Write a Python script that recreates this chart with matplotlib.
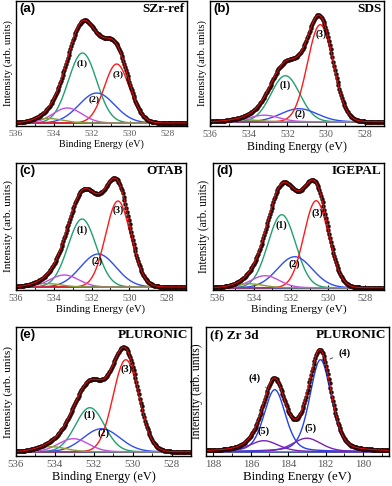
import numpy as np
import matplotlib
matplotlib.use('Agg')
import matplotlib.pyplot as plt
from matplotlib.ticker import MultipleLocator

plt.rcParams['font.family'] = ['Liberation Serif', 'DejaVu Serif']

# panel names
panel_tags = ['(a)', '(b)', '(c)', '(d)', '(e)', '(f) Zr 3d']
sample_names = ['SZr-ref', 'SDS', 'OTAB', 'IGEPAL', 'PLURONIC', 'PLURONIC']

# O 1s components per sample: centre (eV), height (arb.), FWHM (eV)
# order: (1) green, (2) blue, (3) red, extra magenta, extra olive
o1s_centres = {
    'SZr-ref':  [532.5, 531.75, 530.7, 533.3, 534.3],
    'SDS':      [532.1, 531.4, 530.3, 533.2, 534.3],
    'OTAB':     [532.5, 531.65, 530.6, 533.45, 534.4],
    'IGEPAL':   [532.5, 531.8, 530.65, 533.4, 534.3],
    'PLURONIC': [532.2, 531.6, 530.35, 533.05, 534.2],
}
o1s_heights = {
    'SZr-ref':  [70, 30, 59, 15, 4.5],
    'SDS':      [46, 13, 97, 6.5, 2],
    'OTAB':     [68, 33, 86, 12, 3.5],
    'IGEPAL':   [73, 31, 87, 12, 4],
    'PLURONIC': [44, 23, 92, 13, 5],
}
o1s_fwhm = [1.75, 2.2, 1.55, 1.8, 1.8]

# label positions for (1), (2), (3): energy, height
o1s_label_x = {
    'SZr-ref':  [532.5, 531.9, 530.65],
    'SDS':      [532.1, 531.35, 530.25],
    'OTAB':     [532.5, 531.7, 530.6],
    'IGEPAL':   [532.5, 531.8, 530.6],
    'PLURONIC': [532.2, 531.5, 530.3],
}
o1s_label_y = {
    'SZr-ref':  [60, 24, 49],
    'SDS':      [37, 8, 88],
    'OTAB':     [57, 26, 77],
    'IGEPAL':   [63, 24, 75],
    'PLURONIC': [37, 19, 83],
}

# Zr 3d (PLURONIC): 3d3/2, 3d5/2 (4) and 3d3/2, 3d5/2 (5)
zr_centres = [184.72, 182.27, 185.3, 183.0]
zr_heights = [62, 92, 11, 13.5]
zr_fwhm = [1.35, 1.35, 1.8, 1.8]

o1s_colors = ['#21a06e', '#2e4ef0', '#ff1a1a', '#c34fe0', '#8c9a38']
zr_colors = ['#2340f0', '#2340f0', '#7a22b8', '#7a22b8']

W, H = 392, 486
# axes boxes in pixels: left, right, top, bottom ; y limits
boxes = [(16, 187, 1, 126), (210, 384, 1, 126),
         (16, 186, 163, 290), (213, 384, 163, 290),
         (16, 191, 327, 456), (206, 389, 327, 456)]
ylims = [(-3, 122), (-4.3, 120.7), (-3, 124), (-2.3, 124.7), (-4.3, 124.7), (-4.3, 124.7)]
# the six panels were pasted at slightly different scales
xlab_size = [7.2, 8.6, 7.6, 8.2, 8.8, 9.3]
ylab_size = [7.6, 7.6, 8.1, 8.3, 8.1, 8.5]
tick_size = [6.8, 7.2, 7.0, 7.4, 7.8, 7.8]
lab_size = [6.8, 7.0, 7.0, 7.2, 7.4, 7.4]


def peak(x, c, h, fw, eta=0.0):
    s = fw / 2.3548
    g = np.exp(-(x - c) ** 2 / (2 * s * s))
    l = 1.0 / (1.0 + ((x - c) / (fw / 2)) ** 2)
    return h * ((1 - eta) * g + eta * l)


fig = plt.figure(figsize=(W / 100, H / 100), dpi=100)

for i in range(6):
    l, r, t, b = boxes[i]
    ax = fig.add_axes([l / W, 1 - b / H, (r - l) / W, (b - t) / H])
    name = sample_names[i]
    if i < 5:
        x = np.linspace(536.2, 527, 400)
        xd = np.arange(536.2, 527, -0.045)
        comps = [peak(x, c, h, f) for c, h, f in
                 zip(o1s_centres[name], o1s_heights[name], o1s_fwhm)]
        dots = sum(peak(xd, c, h, f) for c, h, f in
                   zip(o1s_centres[name], o1s_heights[name], o1s_fwhm))
        cols = o1s_colors
        ax.set_xlim(536 if i != 3 else 536.2, 527)
    else:
        x = np.linspace(188.4, 178.6, 400)
        xd = np.arange(188.4, 178.6, -0.045)
        comps = [peak(x, c, h, f, 0.3) for c, h, f in zip(zr_centres, zr_heights, zr_fwhm)]
        dots = sum(peak(xd, c, h, f, 0.3) for c, h, f in zip(zr_centres, zr_heights, zr_fwhm))
        cols = zr_colors
        ax.set_xlim(188.4, 178.6)

    ax.plot(x, np.zeros_like(x), color='#1a2a8a', lw=1.1)
    if i == 5:
        ax.plot(x, np.zeros_like(x) + 0.8, color='#6a9a6a', lw=0.8)
    for yc, col in zip(comps, cols):
        ax.plot(x, yc, color=col, lw=1.0)
    ax.plot(xd, dots, 'o', ms=3.2, color='#2a0606', mew=0)
    ax.plot(x, sum(comps), color='#e01010', lw=0.7)

    fs = lab_size[i]
    if i < 5:
        for k, lab in enumerate(['(1)', '(2)', '(3)']):
            ax.text(o1s_label_x[name][k], o1s_label_y[name][k], lab,
                    fontsize=fs, fontweight='bold', ha='center', va='center')
    else:
        ax.annotate('(4)', xy=(185.1, 62.5), xytext=(185.8, 74),
                    fontsize=fs, fontweight='bold', ha='center', va='center',
                    arrowprops=dict(arrowstyle='-', color='#333333', lw=0.6))
        ax.annotate('(4)', xy=(181.9, 91.5), xytext=(181.0, 99),
                    fontsize=fs, fontweight='bold', ha='center', va='center',
                    arrowprops=dict(arrowstyle='-', color='#333333', lw=0.6))
        ax.text(185.3, 20.5, '(5)', fontsize=fs, fontweight='bold', ha='center', va='center')
        ax.text(182.8, 24, '(5)', fontsize=fs, fontweight='bold', ha='center', va='center')

    ax.set_ylim(*ylims[i])
    ax.set_yticks([])
    ax.xaxis.set_major_locator(MultipleLocator(2))
    ax.xaxis.set_minor_locator(MultipleLocator(1))
    ax.tick_params(axis='x', which='major', direction='in', length=3.5, width=0.8,
                   labelsize=tick_size[i], labelcolor='#555555', pad=3)
    ax.tick_params(axis='x', which='minor', direction='in', length=2, width=0.6)
    for sp in ax.spines.values():
        sp.set_linewidth(1.0)
    ax.set_xlabel('Binding Energy (eV)', fontsize=xlab_size[i], labelpad=1)
    ax.set_ylabel('Intensity (arb. units)', fontsize=ylab_size[i], labelpad=2)

    ax.text(0.02, 0.985, panel_tags[i], transform=ax.transAxes, fontsize=9.5,
            fontweight='bold', ha='left', va='top',
            family=['Liberation Sans'] if i < 5 else ['Liberation Serif'])
    ax.text(0.985, 0.985, name, transform=ax.transAxes, fontsize=9.5,
            fontweight='bold', ha='right', va='top')

fig.savefig('out.png', dpi=100)
